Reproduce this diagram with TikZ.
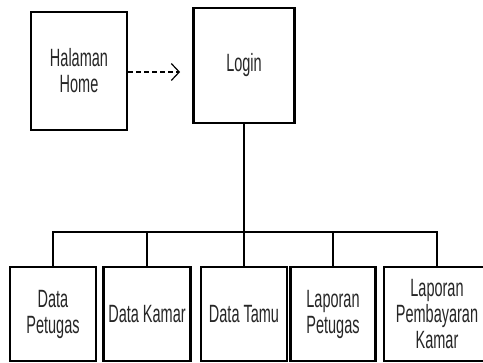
\documentclass[tikz,border=0pt]{standalone}
\usepackage{fontspec}
\setmainfont[FakeStretch=0.58]{Liberation Sans}
\usetikzlibrary{arrows.meta}

\tikzset{
  menubox/.style={draw, line width=2.8pt, align=center, inner sep=0pt,
    font=\fontsize{25}{26}\selectfont, text=black!85},
  link/.style={line width=2.2pt}
}

\begin{document}
\begin{tikzpicture}[x=1pt,y=-1pt]
            \clip (0,0) rectangle (483,363);
            \node[menubox, minimum width=96pt, minimum height=118pt] (home) at (79,71) {Halaman\\Home};
            \node[menubox, minimum width=101pt, minimum height=115pt] (login) at (244,65.5) {Login};
            \node[menubox, minimum width=86pt, minimum height=94pt] (petugas) at (53,314) {Data\\Petugas};
            \node[menubox, minimum width=87pt, minimum height=94pt] (kamar) at (147,314) {Data Kamar};
            \node[menubox, minimum width=86pt, minimum height=94pt] (tamu) at (244,314) {Data Tamu};
            \node[menubox, minimum width=85pt, minimum height=94pt] (lappetugas) at (333,314) {Laporan\\Petugas};
            \node[menubox, minimum width=106pt, minimum height=94pt] (lapbayar) at (437,314) {Laporan\\Pembayaran\\Kamar};
            \coordinate (bus) at (244,232);
            \draw[line width=1.4pt, dash pattern=on 5pt off 3pt, -{Straight Barb[length=8pt,width=17pt,line width=1.2pt]}, shorten >=12pt]
              (home.east |- 0,72) -- (login.west |- 0,72);
            \draw[link] (login.south) -- (bus);
            \draw[link] (petugas.north) |- (bus) -| (lapbayar.north);
            \draw[link] (kamar.north) -- (kamar.north |- bus);
            \draw[link] (tamu.north) -- (bus);
            \draw[link] (lappetugas.north) -- (lappetugas.north |- bus);
        \end{tikzpicture}
\end{document}
